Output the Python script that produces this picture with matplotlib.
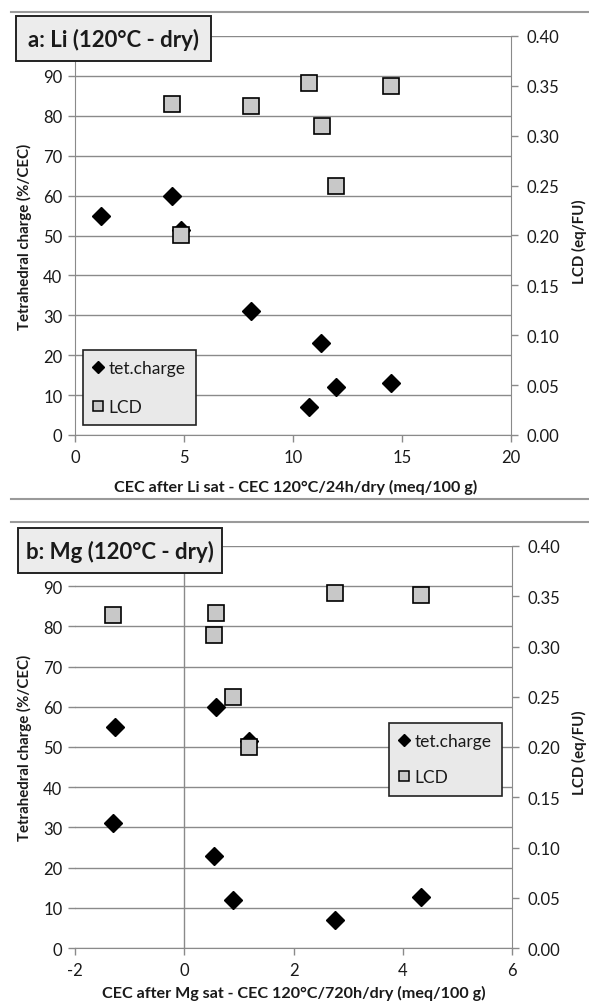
import matplotlib
matplotlib.use("Agg")
import matplotlib.pyplot as plt
from matplotlib.lines import Line2D
from matplotlib.patches import Rectangle

plt.rcParams['font.family'] = ['Lato', 'DejaVu Sans']

# ---- data ----
a_tet_x = [1.17, 4.45, 4.88, 8.07, 11.29, 10.72, 11.95, 14.48]
a_tet_y = [55, 60, 51.5, 31, 23, 7, 12, 13]
a_lcd_x = [4.45, 4.88, 8.07, 10.72, 11.33, 11.95, 14.48]
a_lcd_y = [0.332, 0.200, 0.330, 0.353, 0.310, 0.250, 0.350]

b_tet_x = [-1.26, -1.31, 0.59, 1.19, 0.54, 0.90, 2.76, 4.34]
b_tet_y = [55, 31, 60, 51.5, 23, 12, 7, 12.7]
b_lcd_x = [-1.31, 0.59, 0.54, 0.90, 1.19, 2.76, 4.34]
b_lcd_y = [0.331, 0.333, 0.311, 0.250, 0.200, 0.353, 0.351]

left_ticks = [0, 10, 20, 30, 40, 50, 60, 70, 80, 90]
right_ticks = [0.00, 0.05, 0.10, 0.15, 0.20, 0.25, 0.30, 0.35, 0.40]
a_xticks = [0, 5, 10, 15, 20]
b_xticks = [-2, 0, 2, 4, 6]

W, H = 589, 1004
fig = plt.figure(figsize=(W / 100, H / 100), dpi=100)

GRID = '#8a8a8a'
TXT = '#1a1a1a'
TS = 12

def px(x0, y0, x1, y1):
    return [x0 / W, 1 - y1 / H, (x1 - x0) / W, (y1 - y0) / H]

def make_panel(box, xlim, xticks, tx, ty, lx, ly, xlabel, xlab_pos, title,
               title_box, leg_anchor, xline0, lspace):
    ax = fig.add_axes(px(*box))
    ax.set_xlim(*xlim)
    ax.set_ylim(0, 100)
    ax.set_yticks(left_ticks + [100])
    ax.set_yticklabels([str(t) for t in left_ticks] + [''])
    ax.set_xticks(xticks)
    ax.set_xticklabels([str(t) for t in xticks])
    ax.grid(axis='y', color=GRID, lw=1.0)
    ax.set_axisbelow(True)
    for s in ['top', 'right']:
        ax.spines[s].set_visible(False)
    ax.spines['bottom'].set_color(GRID)
    ax.spines['left'].set_color(GRID)
    if xline0:
        ax.spines['left'].set_visible(False)
        ax.axvline(0, color=GRID, lw=1.0, zorder=0.5)
    ax.tick_params(axis='both', colors=GRID, labelcolor=TXT, labelsize=TS,
                   length=5, width=1, direction='out')
    ax.tick_params(axis='x', pad=5)
    ax.tick_params(axis='y', pad=4)

    ax2 = ax.twinx()
    ax2.set_ylim(0, 0.4)
    ax2.set_yticks(right_ticks)
    ax2.set_yticklabels(['%.2f' % t for t in right_ticks])
    for s in ['top', 'left', 'bottom']:
        ax2.spines[s].set_visible(False)
    ax2.spines['right'].set_color(GRID)
    ax2.tick_params(axis='y', colors=GRID, labelcolor=TXT, labelsize=TS,
                    length=5, width=1, direction='out', pad=6)

    ax2.plot(tx, ty, ls='none', marker='D', ms=9, color='black',
             transform=ax.transData, zorder=3, clip_on=False)
    ax2.plot(lx, ly, ls='none', marker='s', ms=11, mfc='#c8c8c8', mec='black',
             mew=1.2, zorder=4, clip_on=False)

    handles = [Line2D([], [], ls='none', marker='D', ms=6.5, color='black'),
               Line2D([], [], ls='none', marker='s', ms=7.5, mfc='#c8c8c8',
                      mec='black', mew=1.1)]
    leg = ax2.legend(handles, ['tet.charge', 'LCD'], loc='upper left',
                     bbox_to_anchor=(leg_anchor[0] / W, 1 - leg_anchor[1] / H),
                     bbox_transform=fig.transFigure, frameon=True, fancybox=False,
                     edgecolor='#222222', facecolor='#e9e9e9', framealpha=1,
                     fontsize=12.5, handlelength=0.55, handletextpad=0.3,
                     labelspacing=lspace, borderpad=0.6, borderaxespad=0)
    leg.get_frame().set_linewidth(1.2)
    for t in leg.get_texts():
        t.set_color(TXT)

    # axis titles
    yc = (box[1] + box[3]) / 2
    fig.text(24 / W, 1 - yc / H, 'Tetrahedral charge (%/CEC)', rotation=90,
             fontsize=10.8, fontweight='bold', color=TXT, ha='center', va='center')
    fig.text(579 / W, 1 - (yc + 5) / H, 'LCD (eq/FU)', rotation=90,
             fontsize=10.8, fontweight='bold', color=TXT, ha='center', va='center')
    fig.text(xlab_pos[0] / W, 1 - xlab_pos[1] / H, xlabel, fontsize=11.6,
             fontweight='bold', color=TXT, ha='center', va='center')

    # title box
    x0, y0, x1, y1 = title_box
    r = Rectangle((x0 / W, 1 - y1 / H), (x1 - x0) / W, (y1 - y0) / H,
                  transform=fig.transFigure, facecolor='#ececec',
                  edgecolor='#222222', lw=1.4, zorder=10)
    fig.add_artist(r)
    fig.text((x0 + x1) / 2 / W, 1 - (y0 + y1) / 2 / H, title, fontsize=16,
             fontweight='bold', color=TXT, ha='center', va='center', zorder=11)
    return ax, ax2

make_panel((75, 37, 511, 436), (0, 20), a_xticks, a_tet_x, a_tet_y,
           a_lcd_x, a_lcd_y, 'CEC after Li sat - CEC 120°C/24h/dry (meq/100 g)',
           (296, 487), 'a: Li (120°C - dry)', (16, 17, 211, 62), (83, 351), False,
           1.3)
make_panel((75, 547, 512, 949), (-2, 6), b_xticks, b_tet_x, b_tet_y,
           b_lcd_x, b_lcd_y, 'CEC after Mg sat - CEC 120°C/720h/dry (meq/100 g)',
           (294, 993), 'b: Mg (120°C - dry)', (18, 529, 222, 574), (389, 724), True,
           1.15)

for yl in [12.5, 500, 523]:
    fig.add_artist(Line2D([11 / W, 1], [1 - yl / H, 1 - yl / H],
                          transform=fig.transFigure, color='#9a9a9a', lw=1.5))

fig.savefig('out.png', dpi=100, facecolor='white')
